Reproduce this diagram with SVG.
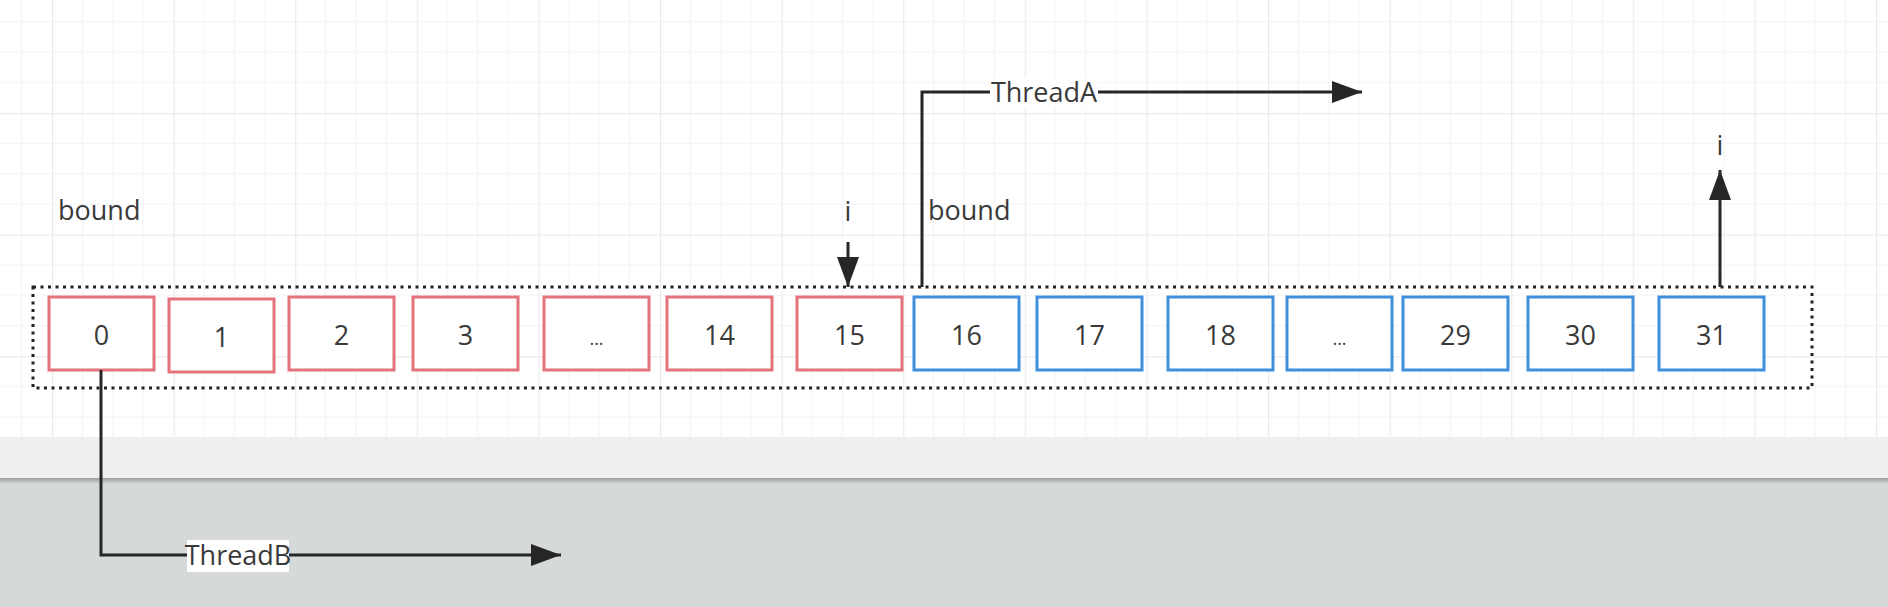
<svg xmlns="http://www.w3.org/2000/svg" width="1888" height="607" viewBox="0 0 1888 607">
  <style>
    .txt { font-family: "Open Sans", "Liberation Sans", sans-serif; font-size: 27px; fill: #3a3a3a; }
    .mid { text-anchor: middle; }
    .red { fill: #ffffff; stroke: #e5737b; stroke-width: 3; }
    .blue { fill: #ffffff; stroke: #3f8fdc; stroke-width: 3; }
    .conn { fill: none; stroke: #262626; stroke-width: 3; }
    .dotted { fill: none; stroke: #222222; stroke-width: 3; stroke-dasharray: 3 4.5; }
  </style>
  <defs>
    <pattern id="grid" patternUnits="userSpaceOnUse" x="52" y="113" width="121.6" height="121.6">
      <path d="M30.4,0 V121.6 M60.8,0 V121.6 M91.2,0 V121.6 M0,30.4 H121.6 M0,60.8 H121.6 M0,91.2 H121.6" stroke="#f4f4f4" stroke-width="1.2" fill="none"/>
      <path d="M0.5,0 V121.6 M0,0.5 H121.6" stroke="#ebebeb" stroke-width="1.4" fill="none"/>
    </pattern>
    <linearGradient id="shadow" x1="0" y1="0" x2="0" y2="1">
      <stop offset="0" stop-color="#9c9e9e"/>
      <stop offset="1" stop-color="#d6d9d9"/>
    </linearGradient>
    <marker id="arrow" markerUnits="userSpaceOnUse" markerWidth="30" markerHeight="22" refX="30" refY="11" orient="auto" viewBox="0 0 30 22">
      <path d="M0,0 L30,11 L0,22 Z" fill="#262626"/>
    </marker>
  </defs>

  <!-- background -->
  <rect x="0" y="0" width="1888" height="437" fill="#ffffff"/>
  <rect x="0" y="0" width="1888" height="437" fill="url(#grid)"/>
  <rect x="0" y="437" width="1888" height="42" fill="#efefef"/>
  <rect x="0" y="478" width="1888" height="129" fill="#d6d9d9"/>
  <rect x="0" y="478" width="1888" height="6" fill="url(#shadow)"/>

  <!-- container -->
  <g id="container">
    <rect class="dotted" x="33" y="287" width="1779" height="101"/>
  </g>

  <!-- cells -->
  <g id="cell-0"><rect class="red" x="49" y="297" width="105" height="73"/><text class="txt mid" x="101.5" y="345">0</text></g>
  <g id="cell-1"><rect class="red" x="169" y="299" width="105" height="73"/><text class="txt mid" x="221.5" y="347">1</text></g>
  <g id="cell-2"><rect class="red" x="289" y="297" width="105" height="73"/><text class="txt mid" x="341.5" y="345">2</text></g>
  <g id="cell-3"><rect class="red" x="413" y="297" width="105" height="73"/><text class="txt mid" x="465.5" y="345">3</text></g>
  <g id="cell-dots1"><rect class="red" x="544" y="297" width="105" height="73"/><text class="txt mid" x="596.5" y="345" style="font-size:18px">...</text></g>
  <g id="cell-14"><rect class="red" x="667" y="297" width="105" height="73"/><text class="txt mid" x="719.5" y="345">14</text></g>
  <g id="cell-15"><rect class="red" x="797" y="297" width="105" height="73"/><text class="txt mid" x="849.5" y="345">15</text></g>
  <g id="cell-16"><rect class="blue" x="914" y="297" width="105" height="73"/><text class="txt mid" x="966.5" y="345">16</text></g>
  <g id="cell-17"><rect class="blue" x="1037" y="297" width="105" height="73"/><text class="txt mid" x="1089.5" y="345">17</text></g>
  <g id="cell-18"><rect class="blue" x="1168" y="297" width="105" height="73"/><text class="txt mid" x="1220.5" y="345">18</text></g>
  <g id="cell-dots2"><rect class="blue" x="1287" y="297" width="105" height="73"/><text class="txt mid" x="1339.5" y="345" style="font-size:18px">...</text></g>
  <g id="cell-29"><rect class="blue" x="1403" y="297" width="105" height="73"/><text class="txt mid" x="1455.5" y="345">29</text></g>
  <g id="cell-30"><rect class="blue" x="1528" y="297" width="105" height="73"/><text class="txt mid" x="1580.5" y="345">30</text></g>
  <g id="cell-31"><rect class="blue" x="1659" y="297" width="105" height="73"/><text class="txt mid" x="1711.5" y="345">31</text></g>

  <!-- free labels -->
  <g id="label-bound-left"><text class="txt" x="58" y="220">bound</text></g>
  <g id="label-bound-right"><text class="txt" x="928" y="220">bound</text></g>
  <g id="label-i-15"><text class="txt mid" x="848" y="221">i</text></g>
  <g id="label-i-31"><text class="txt mid" x="1720" y="155">i</text></g>

  <!-- connectors -->
  <g id="connectors">
    <path class="conn" d="M848,242 V287" marker-end="url(#arrow)"/>
    <path class="conn" d="M1720,287 V170" marker-end="url(#arrow)"/>
    <path class="conn" d="M922,287 V92 H1362" marker-end="url(#arrow)"/>
    <path class="conn" d="M101,370 V555 H561" marker-end="url(#arrow)"/>
    <rect x="990" y="78" width="108" height="30" fill="#ffffff"/>
    <text class="txt mid" x="1044" y="102">ThreadA</text>
    <rect x="187" y="540" width="102" height="32" fill="#ffffff"/>
    <text class="txt mid" x="238" y="565">ThreadB</text>
  </g>
</svg>
